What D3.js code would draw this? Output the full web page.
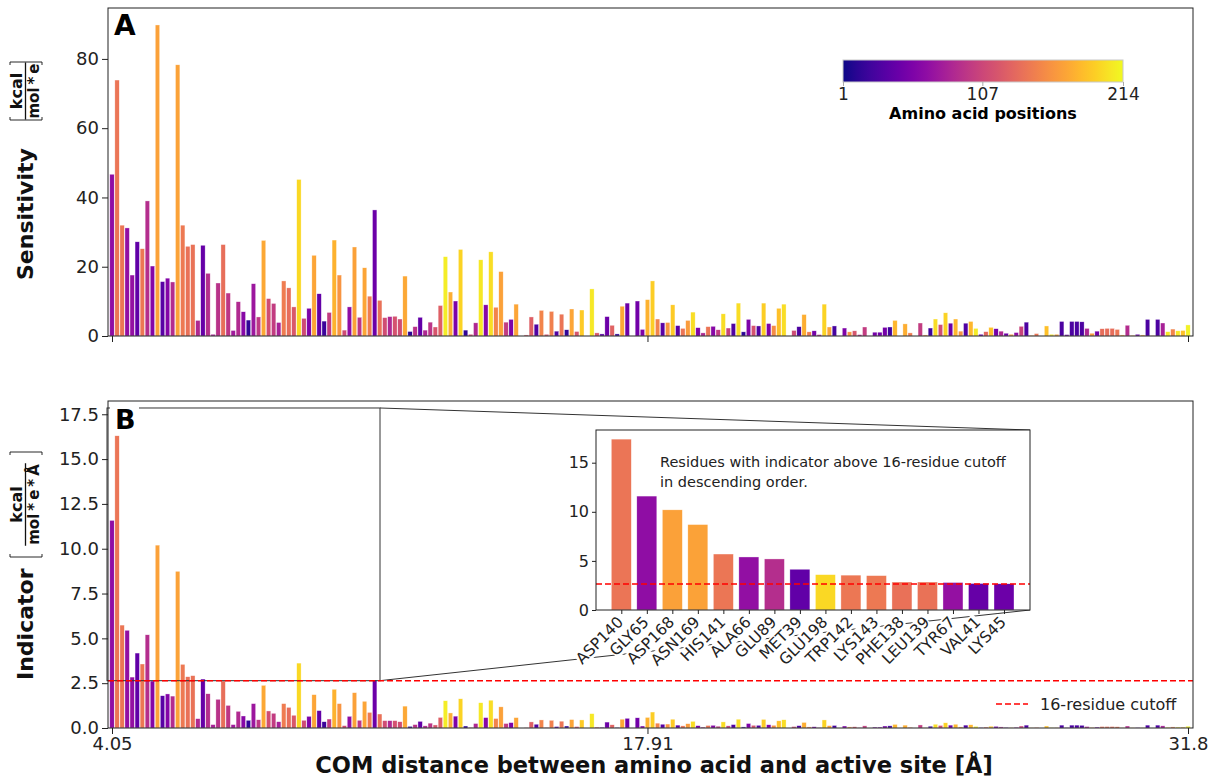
<!DOCTYPE html>
<html>
<head>
<meta charset="utf-8">
<script src="https://cdn.jsdelivr.net/npm/d3@7"></script>
<style>
  body { margin: 0; background: #fff; }
  svg { font-family: "DejaVu Sans", sans-serif; }
</style>
</head>
<body>
<div id="chart"></div>
<script>
// residues sorted by COM distance to the active site (4.05 .. 31.8 A)
const sensitivity = [46.7,73.9,32.0,31.2,17.6,27.2,25.2,39.0,20.2,89.8,
  15.7,16.7,15.6,78.3,32.0,25.9,26.4,4.5,26.2,18.1,
  0.5,15.3,26.4,12.4,1.6,9.9,7.0,4.6,15.1,5.5,
  27.6,10.8,9.4,3.9,15.9,13.9,8.4,45.2,5.1,8.0,
  23.3,12.2,4.3,6.8,27.7,17.6,1.7,8.4,25.7,5.4,
  19.7,11.5,36.4,10.3,5.3,5.6,5.7,4.9,17.3,1.3,
  2.7,5.4,1.7,4.0,2.6,8.8,22.9,12.7,10.1,25.0,
  1.7,0.5,3.8,22.0,9.0,24.3,8.3,18.6,4.0,4.8,
  9.2,0.0,0.3,5.5,3.4,7.4,0.5,7.1,1.4,6.3,
  1.8,7.8,1.3,7.5,0.0,13.6,0.9,0.6,5.6,3.1,
  0.6,8.6,9.5,0.0,10.1,1.9,10.5,15.9,4.9,3.8,
  3.9,9.0,3.0,2.2,4.5,6.9,2.4,0.9,2.7,2.8,
  1.8,6.4,2.3,3.6,9.5,1.2,4.8,3.0,2.9,9.5,
  3.6,3.0,8.0,9.2,0.0,1.6,2.7,6.2,1.2,1.5,
  0.4,9.2,2.6,2.9,0.0,2.3,1.2,1.5,0.4,2.6,
  0.0,1.1,1.1,2.5,2.6,4.5,0.0,3.5,0.9,0.0,
  3.75,0.3,2.3,4.9,3.3,6.7,3.7,4.9,1.4,3.7,
  4.2,2.2,0.5,1.25,2.5,2.1,1.4,0.8,0.5,1.0,
  2.8,4.0,0.2,0.7,0.0,2.9,0.5,0.5,4.2,0.4,
  4.2,4.2,4.1,2.2,0.8,1.4,2.1,2.2,2.2,1.9,
  0.3,3.1,0.2,0.5,0.3,4.8,0.1,4.8,3.75,1.25,
  2.0,1.5,1.6,3.2]

const indicator = [11.58,16.3,5.74,5.45,2.84,4.18,3.57,5.20,2.62,10.2,
  1.80,1.90,1.78,8.74,3.55,2.86,2.92,0.52,2.73,1.91,
  0.19,1.60,2.62,1.26,0.19,0.93,0.67,0.43,1.36,0.46,
  2.38,0.95,0.82,0.35,1.36,1.15,0.71,3.62,0.43,0.65,
  1.86,0.97,0.35,0.50,2.16,1.36,0.13,0.65,1.97,0.43,
  1.49,0.87,2.67,0.78,0.41,0.41,0.41,0.35,1.22,0.09,
  0.19,0.37,0.12,0.27,0.17,0.59,1.52,0.84,0.66,1.63,
  0.11,0.03,0.25,1.41,0.58,1.55,0.53,1.18,0.25,0.30,
  0.58,0.00,0.02,0.34,0.21,0.45,0.03,0.43,0.08,0.38,
  0.11,0.47,0.08,0.45,0.00,0.80,0.05,0.04,0.33,0.18,
  0.03,0.49,0.54,0.00,0.57,0.11,0.59,0.89,0.27,0.21,
  0.22,0.49,0.16,0.12,0.24,0.37,0.13,0.05,0.14,0.15,
  0.10,0.34,0.12,0.19,0.49,0.06,0.25,0.15,0.15,0.48,
  0.18,0.15,0.40,0.46,0.00,0.08,0.13,0.31,0.06,0.07,
  0.02,0.45,0.13,0.14,0.00,0.11,0.06,0.07,0.02,0.12,
  0.00,0.05,0.05,0.11,0.12,0.20,0.00,0.16,0.04,0.00,
  0.17,0.01,0.10,0.21,0.14,0.29,0.16,0.21,0.06,0.16,
  0.18,0.09,0.02,0.05,0.10,0.09,0.06,0.03,0.02,0.04,
  0.11,0.16,0.01,0.03,0.00,0.11,0.02,0.02,0.16,0.02,
  0.16,0.16,0.15,0.08,0.03,0.05,0.08,0.08,0.08,0.07,
  0.01,0.11,0.01,0.02,0.01,0.16,0.00,0.16,0.12,0.04,
  0.06,0.05,0.05,0.10]

// amino acid position of each bar (drives the plasma colour)
const residuePos = [65,140,141,66,67,39,142,89,58,168,
  35,58,88,169,143,138,139,85,41,90,
  80,92,136,95,75,86,60,15,72,96,
  172,112,100,80,145,135,120,198,110,55,
  170,40,20,100,178,160,110,65,168,95,
  170,145,45,138,112,85,115,112,172,12,
  92,40,85,95,118,125,208,175,55,195,
  15,115,85,205,60,200,150,168,100,55,
  170,100,120,125,30,150,118,148,30,140,
  15,170,118,190,100,205,120,35,45,128,
  15,172,45,100,48,55,178,192,150,35,
  160,190,35,140,165,200,55,85,140,60,
  100,200,102,30,200,12,55,115,30,192,
  55,155,185,200,100,110,28,175,145,50,
  88,195,170,25,100,55,160,118,90,100,
  100,50,48,50,22,180,100,175,145,100,
  100,160,20,200,112,195,45,180,160,30,
  180,208,45,130,185,50,85,45,165,65,
  105,28,165,140,100,185,205,165,28,45,
  28,28,28,85,165,48,135,135,135,140,
  170,88,170,45,175,28,165,28,80,205,
  150,205,185,210]

const xTickIdx = [0, 106, 213]
const xTickLabels = ["4.05", "17.91", "31.8"]
const sensTicks = [0, 20, 40, 60, 80]
const indTicks = [0, 2.5, 5, 7.5, 10, 12.5, 15, 17.5]

const insetLabels = ["ASP140","GLY65","ASP168","ASN169","HIS141","ALA66","GLU89","MET39",
  "GLU198","TRP142","LYS143","PHE138","LEU139","TYR67","VAL41","LYS45"]
const insetValues = [17.4,11.6,10.2,8.7,5.7,5.4,5.2,4.15,3.6,3.55,3.5,2.85,2.85,2.8,2.7,2.67]
const insetPos = [140,65,168,169,141,66,89,39,198,142,143,138,139,67,41,45]
const insetTicks = [0, 5, 10, 15]

const cutoff = 2.64
const cbTicks = [1, 107, 214]

const W = 1211, H = 778
const ink = "#222"

const svg = d3.select("#chart").append("svg")
    .attr("width", W)
    .attr("height", H)

const color = p => d3.interpolatePlasma((p - 1) / 213)

const left = 108, right = 1193
const x = d3.scaleLinear().domain([0, 213]).range([112, 1188])
const yA = d3.scaleLinear().domain([0, 94.7]).range([336, 8])
const yB = d3.scaleLinear().domain([0, 18.24]).range([728, 401])
const barW = 4.4

function styleAxis(g, size) {
    g.attr("font-family", null).attr("font-size", null)
    g.select(".domain").remove()
    g.selectAll(".tick line").attr("stroke", ink)
    g.selectAll(".tick text").attr("fill", ink).style("font-size", size + "px")
}

function drawBars(y, values) {
    svg.append("g")
        .selectAll("rect")
        .data(values)
        .enter()
        .append("rect")
        .attr("x", (d, i) => x(i) - barW / 2)
        .attr("y", d => y(d))
        .attr("width", barW)
        .attr("height", d => y(0) - y(d))
        .attr("fill", (d, i) => color(residuePos[i]))
        .attr("stroke", "#fff")
        .attr("stroke-width", 0.5)
        .attr("stroke-opacity", 0.7)
}

// ---- panel A
drawBars(yA, sensitivity)
svg.append("g")
    .attr("transform", `translate(${left},0)`)
    .call(d3.axisLeft(yA).tickValues(sensTicks).tickSize(6).tickPadding(3))
    .call(g => styleAxis(g, 18))
svg.append("g")
    .attr("transform", `translate(0,${yA(0)})`)
    .call(d3.axisBottom(x).tickValues(xTickIdx).tickSize(6).tickFormat(""))
    .call(g => styleAxis(g, 18))
svg.append("rect")
    .attr("x", left).attr("y", yA.range()[1])
    .attr("width", right - left).attr("height", yA(0) - yA.range()[1])
    .attr("fill", "none").attr("stroke", ink)

svg.append("text").attr("x", 114).attr("y", 35)
    .attr("font-size", 28).attr("font-weight", "bold").text("A")

// colour bar
const grad = svg.append("defs").append("linearGradient").attr("id", "plasma")
d3.range(0, 1.0001, 0.05).forEach(t => {
    grad.append("stop").attr("offset", t).attr("stop-color", d3.interpolatePlasma(t))
})
const cb = d3.scaleLinear().domain([1, 214]).range([843, 1123])
svg.append("rect")
    .attr("x", 843).attr("y", 60).attr("width", 280).attr("height", 22)
    .attr("fill", "url(#plasma)").attr("stroke", "#c8c8c8").attr("stroke-width", 1)
svg.append("g")
    .attr("transform", "translate(0,82)")
    .call(d3.axisBottom(cb).tickValues(cbTicks).tickSize(4).tickPadding(2))
    .call(g => styleAxis(g, 17))
    .call(g => g.selectAll(".tick line").attr("stroke", "#aaa"))
svg.append("text").attr("x", 983).attr("y", 119).attr("text-anchor", "middle")
    .attr("font-size", 16).attr("font-weight", "bold").text("Amino acid positions")

// ---- panel B
drawBars(yB, indicator)

// indicated inset region + connector lines (under the inset)
const rx0 = 107, rx1 = 380
svg.append("rect")
    .attr("x", rx0).attr("y", yB(17.85))
    .attr("width", rx1 - rx0).attr("height", yB(cutoff) - yB(17.85))
    .attr("fill", "none").attr("stroke", "#333").attr("stroke-width", 1)

const inL = 596, inR = 1030, inT = 430, inB = 610
svg.append("line").attr("x1", rx1).attr("y1", yB(17.85)).attr("x2", inR).attr("y2", inT)
    .attr("stroke", "#333")
svg.append("line").attr("x1", rx1).attr("y1", yB(cutoff)).attr("x2", inR).attr("y2", inB)
    .attr("stroke", "#333")

svg.append("line")
    .attr("x1", left).attr("x2", right).attr("y1", yB(cutoff)).attr("y2", yB(cutoff))
    .attr("stroke", "#ff0000").attr("stroke-width", 1.5).attr("stroke-dasharray", "6,3")

svg.append("g")
    .attr("transform", `translate(${left},0)`)
    .call(d3.axisLeft(yB).tickValues(indTicks).tickSize(6).tickPadding(3).tickFormat(d3.format(".1f")))
    .call(g => styleAxis(g, 18))
svg.append("g")
    .attr("transform", `translate(0,${yB(0)})`)
    .call(d3.axisBottom(x).tickValues(xTickIdx).tickSize(6).tickPadding(3)
        .tickFormat((d, i) => xTickLabels[i]))
    .call(g => styleAxis(g, 18))
svg.append("rect")
    .attr("x", left).attr("y", yB.range()[1])
    .attr("width", right - left).attr("height", yB(0) - yB.range()[1])
    .attr("fill", "none").attr("stroke", ink)

svg.append("rect").attr("x", 110).attr("y", 404).attr("width", 29).attr("height", 28).attr("fill", "#fff")
svg.append("text").attr("x", 115).attr("y", 429)
    .attr("font-size", 27).attr("font-weight", "bold").text("B")

// legend
svg.append("line").attr("x1", 996).attr("x2", 1028).attr("y1", 704).attr("y2", 704)
    .attr("stroke", "#ff0000").attr("stroke-width", 1.5).attr("stroke-dasharray", "6,3")
svg.append("text").attr("x", 1040).attr("y", 710).attr("font-size", 16).attr("fill", ink)
    .text("16-residue cutoff")

// ---- inset
const inset = svg.append("g")
const xIn = d3.scaleLinear().domain([0, 15]).range([621.3, 1004])
const yIn = d3.scaleLinear().domain([0, 18.33]).range([inB, inT])
inset.append("rect").attr("x", inL).attr("y", inT).attr("width", inR - inL).attr("height", inB - inT)
    .attr("fill", "#fff")
inset.append("g")
    .selectAll("rect")
    .data(insetValues)
    .enter()
    .append("rect")
    .attr("x", (d, i) => xIn(i) - 10)
    .attr("y", d => yIn(d))
    .attr("width", 20)
    .attr("height", d => yIn(0) - yIn(d))
    .attr("fill", (d, i) => color(insetPos[i]))
    .attr("stroke", "#fff").attr("stroke-width", 0.5).attr("stroke-opacity", 0.7)
inset.append("line")
    .attr("x1", inL).attr("x2", inR).attr("y1", yIn(cutoff)).attr("y2", yIn(cutoff))
    .attr("stroke", "#ff0000").attr("stroke-width", 1.5).attr("stroke-dasharray", "6,3")
inset.append("g")
    .attr("transform", `translate(${inL},0)`)
    .call(d3.axisLeft(yIn).tickValues(insetTicks).tickSize(4).tickPadding(3))
    .call(g => styleAxis(g, 16))
inset.append("g")
    .attr("transform", `translate(0,${inB})`)
    .call(d3.axisBottom(xIn).tickValues(d3.range(16)).tickSize(4).tickFormat(""))
    .call(g => styleAxis(g, 16))
inset.append("rect").attr("x", inL).attr("y", inT).attr("width", inR - inL).attr("height", inB - inT)
    .attr("fill", "none").attr("stroke", ink)

const labG = inset.append("g")
const labs = insetLabels.map((lab, i) => {
    const g = labG.append("g").attr("transform", `translate(${xIn(i) + 3},623) rotate(-45)`)
    const t = g.append("text").attr("text-anchor", "end").attr("font-size", 15.5)
        .attr("fill", ink).text(lab)
    return { g, t }
})
labs.forEach(({ g, t }) => {
    const bb = t.node().getBBox()
    g.insert("rect", "text").attr("x", bb.x).attr("y", bb.y + 1)
        .attr("width", bb.width).attr("height", bb.height - 2).attr("fill", "#fff")
})
// keep all texts above all white boxes
labs.forEach(({ g, t }) => labG.append(() => t.node()).attr("transform", g.attr("transform")))

inset.append("text").attr("x", 660).attr("y", 467).attr("font-size", 14.5).attr("fill", ink)
    .text("Residues with indicator above 16-residue cutoff")
inset.append("text").attr("x", 660).attr("y", 487).attr("font-size", 14.5).attr("fill", ink)
    .text("in descending order.")

// ---- axis titles
svg.append("text").attr("x", 654).attr("y", 773).attr("text-anchor", "middle")
    .attr("font-size", 22.5).attr("font-weight", "bold").attr("fill", "#111")
    .text("COM distance between amino acid and active site [Å]")

function yLabel(main, start, numer, denom, b0, b1) {
    // rotated frame: local x = -page y, local y = page x
    const g = svg.append("g").attr("transform", "rotate(-90)").attr("fill", "#111")
    g.append("text").attr("x", -start).attr("y", 33)
        .attr("font-size", 22).attr("font-weight", "bold").text(main)
    const c = -(b0 + b1) / 2
    const den = g.append("text").attr("x", c).attr("y", 39).attr("text-anchor", "middle")
        .attr("font-size", 15).attr("font-weight", "bold").text(denom)
    g.append("text").attr("x", c).attr("y", 22).attr("text-anchor", "middle")
        .attr("font-size", 16).attr("font-weight", "bold").text(numer)
    const half = den.node().getComputedTextLength() / 2 + 1
    g.append("line").attr("x1", c - half).attr("x2", c + half).attr("y1", 25.5).attr("y2", 25.5)
        .attr("stroke", "#111").attr("stroke-width", 1.3)
    g.append("path")
        .attr("d", `M${-b1 + 3},10 L${-b1},10 L${-b1},42 L${-b1 + 3},42`
            + ` M${-b0 - 3},10 L${-b0},10 L${-b0},42 L${-b0 - 3},42`)
        .attr("fill", "none").attr("stroke", "#111").attr("stroke-width", 0.9)
}
yLabel("Sensitivity", 280, "kcal", "mol\u2009*\u2009e", 62, 120)
yLabel("Indicator", 680, "kcal", "mol\u2009*\u2009e\u2009*\u2009Å", 452, 557)
</script>
</body>
</html>
